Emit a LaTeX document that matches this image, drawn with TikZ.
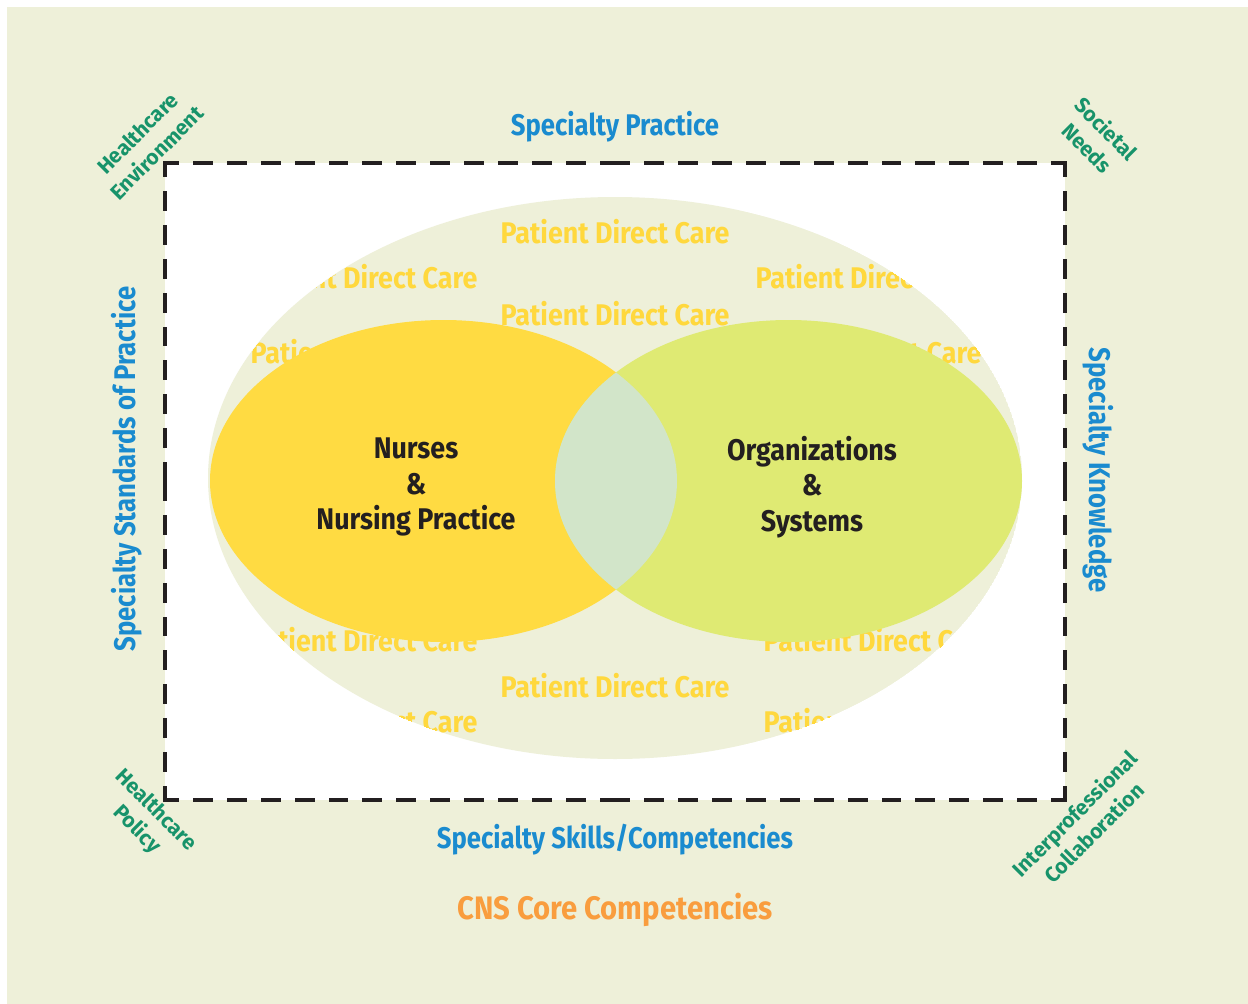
\documentclass[tikz,border=0pt]{standalone}
\usepackage{fontspec}
\setmainfont{Fira Sans}
\newfontfamily\condfont{Fira Sans}[FakeStretch=0.9]
\newfontfamily\narrowfont{Fira Sans}[FakeStretch=0.86]
\usepackage{tikz}
\usetikzlibrary{positioning}
\usepackage{xcolor}

\definecolor{panel}{HTML}{EEF0D9}
\definecolor{nursefill}{HTML}{FFDB42}
\definecolor{orgfill}{HTML}{DFEA73}
\definecolor{lensfill}{HTML}{D2E5C9}
\definecolor{caretext}{HTML}{FFD83D}
\definecolor{specblue}{HTML}{1A8BCF}
\definecolor{envgreen}{HTML}{17936A}
\definecolor{coreorange}{HTML}{F99D3E}
\definecolor{inkdark}{HTML}{231F20}

\begin{document}
\begin{tikzpicture}[
    x=0.02cm, y=-0.02cm,
    care/.style={
        text=caretext,
        inner sep=0pt,
        font=\condfont\bfseries\fontsize{17}{20}\selectfont
    },
    spec/.style={
        text=specblue,
        inner sep=0pt,
        font=\narrowfont\bfseries\fontsize{17}{20}\selectfont
    },
    envlabel/.style={
        text=envgreen,
        align=center,
        inner sep=0pt,
        font=\bfseries\fontsize{12}{15.5}\selectfont
    },
    circlelabel/.style={
        text=inkdark,
        align=center,
        inner sep=0pt,
        font=\condfont\bfseries\fontsize{17}{20.2}\selectfont
    },
    dashline/.style={
        draw=inkdark,
        line width=2.27pt,
        line cap=rect,
        dash pattern=on 9.1pt off 10.2pt,
        dash phase=2.3pt
    }
]
\useasboundingbox (0,0) rectangle (1248,1004);

% -------- Panel --------
\fill[white] (0,0) rectangle (1248,1004);
\fill[panel] (7,7) rectangle (1248,1004);
\fill[white] (165,163) rectangle (1065,800);

% -------- Frame corners --------
\coordinate (tl) at (165,163);
\coordinate (tr) at (1065,163);
\coordinate (br) at (1065,800);
\coordinate (bl) at (165,800);
\coordinate (tm) at (615,163);
\coordinate (bm) at (615,800);
\coordinate (lm) at (165,481.5);
\coordinate (rm) at (1065,481.5);

\foreach \a/\b in {tl/tm, tr/tm, bl/bm, br/bm, tl/lm, bl/lm, tr/rm, br/rm}
    \draw[dashline] (\a) -- (\b);

% -------- Care ring --------
\begin{scope}
    \clip (615,478) ellipse [x radius=407, y radius=281];
    \fill[panel] (615,478) ellipse [x radius=407, y radius=281];
    \foreach \x/\y [count=\i] in {615/232, 363/277, 870/277, 615/314, 365/352, 867/352,
                                  363/640, 878/640, 615/686, 363/721, 878/721}
        \node[care] (care\i) at (\x,\y) {Patient Direct Care};
\end{scope}

% -------- Nurses / Organizations --------
\fill[nursefill] (443.5,481) ellipse [x radius=233.5, y radius=161];
\fill[orgfill] (788.5,481) ellipse [x radius=233.5, y radius=161];
\begin{scope}
    \clip (443.5,481) ellipse [x radius=233.5, y radius=161];
    \fill[lensfill] (788.5,481) ellipse [x radius=233.5, y radius=161];
\end{scope}

\node[circlelabel] (nurses) at (416,487) {Nurses\\\&\\Nursing Practice};
\node[circlelabel] (orgs) at (812,487) {Organizations\\\&\\Systems};

% -------- Specialty labels --------
\node[spec] (practice) at (615,127) {Specialty Practice};
\node[spec, rotate=90] (standards) at (127,469) {Specialty Standards of Practice};
\node[spec, rotate=-90] (knowledge) at (1098,470) {Specialty Knowledge};
\node[spec] (skills) at (615,840) {Specialty Skills/Competencies};

\node[text=coreorange, inner sep=0pt, font=\condfont\bfseries\fontsize{18.5}{22}\selectfont]
    (core) at (615,910) {CNS Core Competencies};

% -------- Corner labels --------
\node[envlabel, rotate=45] (environment) at (147,143) {Healthcare\\Environment};
\node[envlabel, rotate=-45] (societal) at (1097,138) {Societal\\Needs};
\node[envlabel, rotate=-45] (policy) at (146,820) {Healthcare\\Policy};
\node[envlabel, rotate=45] (collab) at (1084,823) {Interprofessional\\Collaboration};

\end{tikzpicture}
\end{document}
